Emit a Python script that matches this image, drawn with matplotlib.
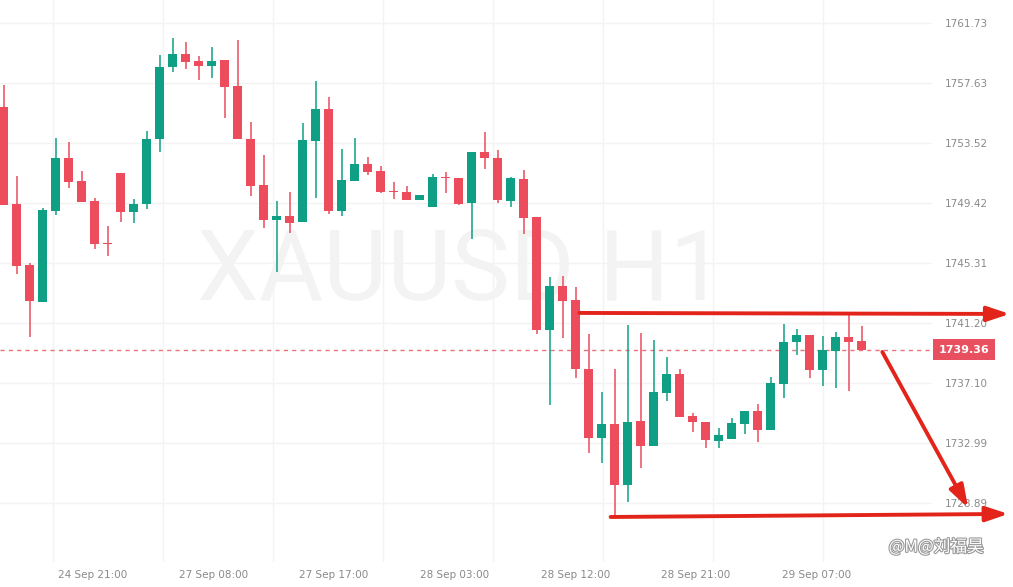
import matplotlib
matplotlib.use("Agg")
import matplotlib.pyplot as plt
import matplotlib.patheffects as pe
import matplotlib.transforms as mtransforms
import numpy as np

# hourly XAUUSD candles
opens = [1755.98, 1749.35, 1745.17, 1742.64, 1748.87, 1752.49, 1750.92, 1749.55, 1746.63, 1751.47,
         1748.80, 1749.35, 1753.79, 1758.72, 1759.61, 1759.13, 1758.79, 1759.20, 1757.42, 1753.79,
         1750.65, 1748.25, 1748.53, 1748.11, 1753.66, 1755.85, 1748.87, 1750.92, 1752.08, 1751.60,
         1750.24, 1750.17, 1749.62, 1749.14, 1751.19, 1751.13, 1749.41, 1752.90, 1752.49, 1749.55,
         1751.06, 1748.46, 1740.73, 1743.74, 1742.78, 1738.06, 1733.34, 1734.29, 1730.12, 1734.50,
         1732.79, 1736.42, 1737.72, 1734.84, 1734.43, 1733.13, 1733.27, 1734.29, 1735.18, 1733.88,
         1737.03, 1739.90, 1740.38, 1737.99, 1739.29, 1740.25, 1739.97]
highs = [1757.49, 1751.26, 1745.31, 1749.07, 1753.86, 1753.59, 1751.60, 1749.76, 1747.84, 1751.47,
         1749.69, 1754.34, 1759.54, 1760.70, 1760.43, 1759.47, 1760.09, 1759.20, 1760.57, 1754.96,
         1752.70, 1749.55, 1750.17, 1754.89, 1757.76, 1756.67, 1753.11, 1753.86, 1752.56, 1751.95,
         1750.85, 1750.58, 1749.96, 1751.40, 1751.54, 1751.13, 1752.90, 1754.27, 1753.04, 1751.19,
         1751.67, 1748.46, 1744.35, 1744.42, 1743.67, 1740.45, 1736.48, 1738.06, 1741.07, 1740.52,
         1740.04, 1738.88, 1738.06, 1735.05, 1734.43, 1734.02, 1734.71, 1735.18, 1735.66, 1737.51,
         1741.14, 1740.79, 1740.38, 1740.32, 1740.59, 1741.89, 1741.00]
lows = [1749.28, 1744.56, 1740.25, 1742.64, 1748.59, 1750.44, 1749.48, 1746.27, 1745.79, 1748.11,
        1748.05, 1749.00, 1752.90, 1758.38, 1758.58, 1757.83, 1757.97, 1755.23, 1753.79, 1749.89,
        1747.70, 1744.69, 1747.36, 1748.11, 1749.76, 1748.66, 1748.53, 1750.92, 1751.33, 1750.10,
        1749.69, 1749.62, 1749.62, 1749.14, 1750.10, 1749.28, 1746.95, 1751.74, 1749.41, 1749.14,
        1747.29, 1740.45, 1735.59, 1740.18, 1737.44, 1732.31, 1731.63, 1727.93, 1728.96, 1731.28,
        1732.79, 1735.87, 1734.77, 1733.75, 1732.65, 1732.65, 1733.27, 1733.61, 1733.06, 1733.88,
        1736.07, 1739.02, 1737.44, 1736.89, 1736.76, 1736.55, 1739.36]
closes = [1749.28, 1745.10, 1742.71, 1748.94, 1752.49, 1750.85, 1749.48, 1746.61, 1746.58, 1748.80,
          1749.35, 1753.79, 1758.72, 1759.61, 1759.06, 1758.79, 1759.13, 1757.35, 1753.79, 1750.58,
          1748.25, 1748.53, 1748.05, 1753.73, 1755.85, 1748.87, 1750.99, 1752.08, 1751.54, 1750.17,
          1750.17, 1749.62, 1749.96, 1751.19, 1751.13, 1749.35, 1752.90, 1752.49, 1749.62, 1751.13,
          1748.39, 1740.73, 1743.74, 1742.71, 1738.06, 1733.34, 1734.29, 1730.12, 1734.43, 1732.79,
          1736.48, 1737.72, 1734.77, 1734.43, 1733.20, 1733.54, 1734.36, 1735.18, 1733.88, 1737.10,
          1739.90, 1740.38, 1737.99, 1739.36, 1740.25, 1739.90, 1739.36]

last_price = 1739.36
price_ticks = [1728.89, 1732.99, 1737.10, 1741.20, 1745.31, 1749.42, 1753.52, 1757.63, 1761.73]
time_labels = ["24 Sep 21:00", "27 Sep 08:00", "27 Sep 17:00", "28 Sep 03:00",
               "28 Sep 12:00", "28 Sep 21:00", "29 Sep 07:00"]

UP = "#0f9f84"
DOWN = "#ec4c5c"
ARROW = "#e3241b"
GRID = "#f3f3f3"

fig = plt.figure(figsize=(10.13, 5.87), dpi=100)
ax = fig.add_axes([0, 25 / 587, 932 / 1013, 562 / 587])
ax.set_xlim(-0.27, 71.42)
ax.set_ylim(1724.85, 1763.30)

o = np.array(opens)
h = np.array(highs)
l = np.array(lows)
c = np.array(closes)
x = np.arange(len(o))
cols = np.where(c >= o, UP, DOWN)

# grid
for gx in 3.81 + 8.46 * np.arange(9):
    ax.axvline(gx, color=GRID, lw=1, zorder=0)
for gy in price_ticks:
    ax.axhline(gy, color=GRID, lw=1, zorder=0)

# watermark
ax.text(0.495, 0.514, "XAUUSD H1", transform=ax.transAxes, ha="center", va="center",
        fontsize=71, family="Roboto", color="#f3f3f3", zorder=1)

ax.vlines(x, l, h, colors=cols, lw=1.1, zorder=2)
body_h = np.maximum(np.abs(c - o), 0.09)
ax.bar(x, body_h, bottom=np.minimum(o, c), width=0.74, color=cols, lw=0, zorder=3)

# last price line + label
ax.axhline(last_price, color="#e8737d", lw=1, ls=(0, (3, 3)), zorder=1)
lbl_tr = mtransforms.offset_copy(ax.get_yaxis_transform(), fig=fig, x=7, y=0, units="dots")
ax.text(1.0, last_price, f"{last_price:.2f}", transform=lbl_tr, ha="left", va="center",
        fontsize=8, fontweight="bold", color="white", zorder=5, clip_on=False,
        bbox=dict(boxstyle="square,pad=0.5", fc="#e8505f", ec="none"))

# axes styling
for s in ax.spines.values():
    s.set_visible(False)
ax.yaxis.tick_right()
ax.set_yticks(price_ticks)
ax.set_yticklabels([f"{v:.2f}" for v in price_ticks])
ax.tick_params(axis="y", length=0, pad=9, labelsize=7.5, labelcolor="#8a8a8a")
ax.set_xticks(6.85 + 9.28 * np.arange(len(time_labels)))
ax.set_xticklabels(time_labels)
ax.tick_params(axis="x", length=0, pad=6, labelsize=7.5, labelcolor="#8a8a8a")

# hand drawn arrows
arrow_kw = dict(arrowstyle="-|>,head_length=0.75,head_width=0.25", lw=2.8, color=ARROW,
                shrinkA=0, shrinkB=0, mutation_scale=18)
for (x0, y0), (x1, y1) in [((44.3, 1741.89), (77.4, 1741.82)),
                           ((46.7, 1727.93), (77.3, 1728.14)),
                           ((67.6, 1739.22), (74.2, 1728.55))]:
    a = ax.annotate("", xy=(x1, y1), xytext=(x0, y0), xycoords="data", textcoords="data",
                    arrowprops=arrow_kw, annotation_clip=False, zorder=6)
    a.arrow_patch.set_clip_on(False)

fig.text(0.924, 0.068, "@M@刘福昊", ha="center", va="center", fontsize=12,
         family=["Noto Sans CJK SC", "DejaVu Sans"], color="white",
         path_effects=[pe.withStroke(linewidth=1.6, foreground="#9a9a9a")])

fig.savefig("out.png", dpi=100, facecolor="white")
